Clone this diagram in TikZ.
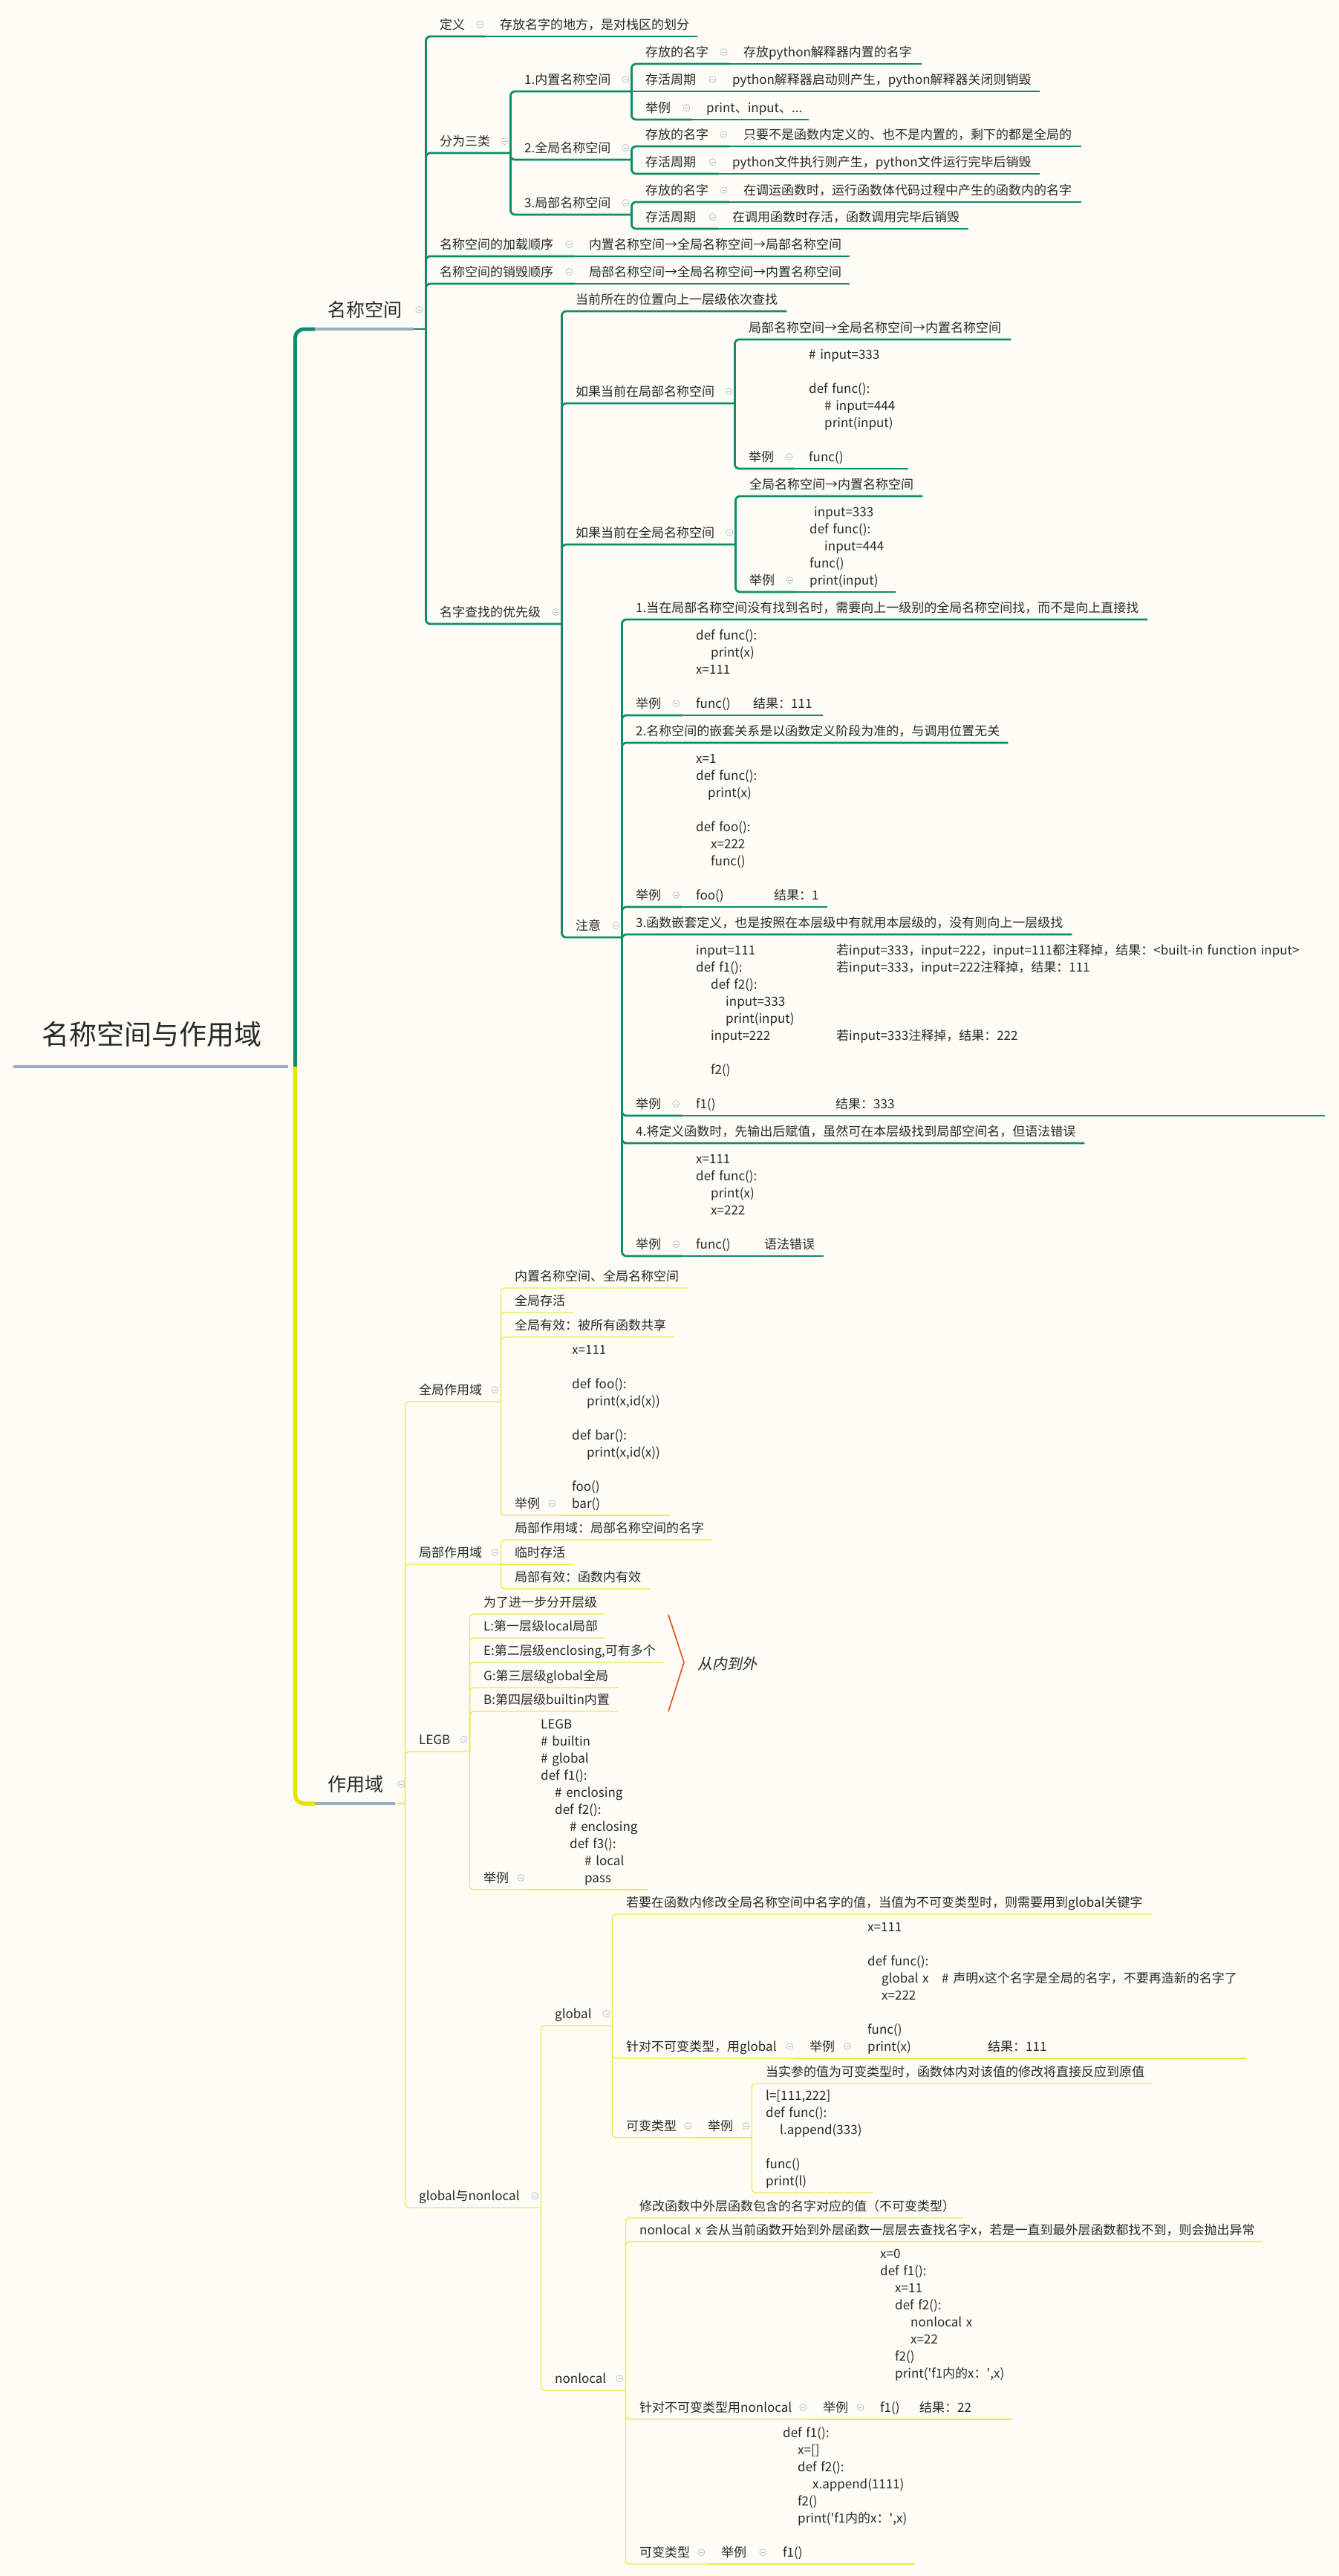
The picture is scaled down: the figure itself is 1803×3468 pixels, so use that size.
\documentclass[tikz,border=0pt]{standalone}
\usepackage{fontspec}
\setmainfont{Noto Sans CJK SC}
\newfontfamily\slantfont[FakeSlant=0.2]{Noto Sans CJK SC}
\usetikzlibrary{calc}

\definecolor{bg}{RGB}{253,253,246}
\definecolor{txt}{RGB}{40,40,40}
\definecolor{gcol}{RGB}{16,140,108}
\definecolor{ycol}{RGB}{238,234,70}
\definecolor{ybr}{RGB}{228,228,10}
\definecolor{hub}{RGB}{155,175,195}
\definecolor{mkc}{RGB}{180,190,208}
\definecolor{redc}{RGB}{222,80,30}

\newcommand\ind[1]{\hspace*{#1pt}}
\newcommand\atcol[2]{\makebox[#1pt][l]{#2}}

\begin{document}
\begin{tikzpicture}[x=1pt, y=-1pt,
    topic/.style={anchor=south west, inner sep=0pt, text width=#1, align=left,
      text=txt, font=\fontsize{17}{23}\selectfont,
      execute at begin node={\leftskip=19pt\hyphenpenalty=10000\exhyphenpenalty=10000},
      execute at end node={\rule[-9.5pt]{0pt}{9.5pt}}},
    lvlone/.style={anchor=south west, inner sep=0pt, text width=#1, align=left,
      text=txt, font=\fontsize{25}{30}\selectfont,
      execute at begin node={\leftskip=17pt},
      execute at end node={\rule[-16pt]{0pt}{16pt}}},
    rootnode/.style={anchor=south west, inner sep=0pt, text width=379, align=left,
      text=txt, font=\fontsize{37}{44}\selectfont,
      execute at begin node={\leftskip=38pt},
      execute at end node={\rule[-29pt]{0pt}{29pt}}},
    gline/.style={draw=gcol, line width=2.8pt, rounded corners=6pt},
    yline/.style={draw=ycol, line width=1.3pt, rounded corners=5pt},
    gbranch/.style={draw=gcol, line width=5pt, rounded corners=12pt},
    ybranch/.style={draw=ybr, line width=5.5pt, rounded corners=12pt},
    hubline/.style={draw=hub, line width=3.4pt},
    mk/.style={circle, draw=mkc, line width=0.7pt, fill=bg, inner sep=0pt, minimum size=9pt,
      path picture={\draw[mkc, line width=0.7pt]
        ([xshift=-2.3pt]path picture bounding box.center) -- ([xshift=2.3pt]path picture bounding box.center);}},
    brace/.style={draw=redc, line width=1.6pt}
  ]
\useasboundingbox (0,0) rectangle (1803,3468);
\fill[bg] (0,0) rectangle (1803,3468);

% root and the two main topics
\node[rootnode] (root) at (18,1436) {名称空间与作用域};
\node[lvlone=149] (ns) at (424,443) {名称空间};
\node[lvlone=121] (zy) at (424,2428) {作用域};

% ---- 名称空间 ----
\node[topic=81] (d1) at (573,49) {定义};
\node[topic=285] (d1a) at (654,49) {存放名字的地方，是对栈区的划分};
\node[topic=114] (d2) at (573,206) {分为三类};
\node[topic=163] (d2a) at (687,123) {1.内置名称空间};
\node[topic=132] (d2a1) at (850,86) {存放的名字};
\node[topic=259] (d2a1c) at (982,86) {存放python解释器内置的名字};
\node[topic=117] (d2a2) at (850,123) {存活周期};
\node[topic=433] (d2a2c) at (967,123) {python解释器启动则产生，python解释器关闭则销毁};
\node[topic=82] (d2a3) at (850,161) {举例};
\node[topic=157] (d2a3c) at (932,161) {print、input、...};
\node[topic=163] (d2b) at (687,215) {2.全局名称空间};
\node[topic=132] (d2b1) at (850,197) {存放的名字};
\node[topic=474] (d2b1c) at (982,197) {只要不是函数内定义的、也不是内置的，剩下的都是全局的};
\node[topic=117] (d2b2) at (850,234) {存活周期};
\node[topic=433] (d2b2c) at (967,234) {python文件执行则产生，python文件运行完毕后销毁};
\node[topic=163] (d2c) at (687,289) {3.局部名称空间};
\node[topic=132] (d2c1) at (850,272) {存放的名字};
\node[topic=474] (d2c1c) at (982,272) {在调运函数时，运行函数体代码过程中产生的函数内的名字};
\node[topic=117] (d2c2) at (850,308) {存活周期};
\node[topic=337] (d2c2c) at (967,308) {在调用函数时存活，函数调用完毕后销毁};
\node[topic=201] (d3) at (573,345) {名称空间的加载顺序};
\node[topic=370] (d3c) at (774,345) {内置名称空间→全局名称空间→局部名称空间};
\node[topic=201] (d4) at (573,382) {名称空间的销毁顺序};
\node[topic=370] (d4c) at (774,382) {局部名称空间→全局名称空间→内置名称空间};
\node[topic=183] (d5) at (573,840) {名字查找的优先级};
\node[topic=303] (e1) at (756,419) {当前所在的位置向上一层级依次查找};
\node[topic=233] (e2) at (756,543) {如果当前在局部名称空间};
\node[topic=372] (e2a) at (989,457) {局部名称空间→全局名称空间→内置名称空间};
\node[topic=81] (e2b) at (989,631) {举例};
\node[topic=153] (e2bc) at (1070,631) {\#~input=333\\ \mbox{}\\ def~func():\\
  \ind{21}\#~input=444\\ \ind{21}print(input)\\ \mbox{}\\ func()};
\node[topic=234] (e3) at (756,733) {如果当前在全局名称空间};
\node[topic=252] (e3a) at (990,668) {全局名称空间→内置名称空间};
\node[topic=81] (e3b) at (990,797) {举例};
\node[topic=135] (e3bc) at (1071,797) {\ind{6}input=333\\ def~func():\\ \ind{20}input=444\\
  func()\\ print(input)};
\node[topic=81] (e4) at (756,1262) {注意};
\node[topic=708] (f1) at (837,834) {1.当在局部名称空间没有找到名时，需要向上一级别的全局名称空间找，而不是向上直接找};
\node[topic=81] (f2) at (837,963) {举例};
\node[topic=190] (f2c) at (918,963) {def~func():\\ \ind{20}print(x)\\ x=111\\ \mbox{}\\
  \atcol{77}{func()}结果：111};
\node[topic=520] (f3) at (837,1000) {2.名称空间的嵌套关系是以函数定义阶段为准的，与调用位置无关};
\node[topic=81] (f4) at (837,1221) {举例};
\node[topic=196] (f4c) at (918,1221) {x=1\\ def~func():\\ \ind{16}print(x)\\ \mbox{}\\
  def~foo():\\ \ind{20}x=222\\ \ind{20}func()\\ \mbox{}\\ \atcol{105}{foo()}结果：1};
\node[topic=606] (f5) at (837,1258) {3.函数嵌套定义，也是按照在本层级中有就用本层级的，没有则向上一层级找};
\node[topic=81] (f6) at (837,1502) {举例};
\node[topic=866] (f6c) at (918,1502) {\atcol{189}{input=111}若input=333，input=222，input=111都注释掉，结果：<built-in~function~input>\\
  \atcol{189}{def~f1():}若input=333，input=222注释掉，结果：111\\
  \ind{20}def~f2():\\ \ind{40}input=333\\ \ind{40}print(input)\\
  \atcol{189}{\ind{20}input=222}若input=333注释掉，结果：222\\ \mbox{}\\
  \ind{20}f2()\\ \mbox{}\\ \atcol{188}{f1()}结果：333};
\node[topic=623] (f7) at (837,1539) {4.将定义函数时，先输出后赋值，虽然可在本层级找到局部空间名，但语法错误};
\node[topic=81] (f8) at (837,1691) {举例};
\node[topic=191] (f8c) at (918,1691) {x=111\\ def~func():\\ \ind{20}print(x)\\ \ind{20}x=222\\
  \mbox{}\\ \atcol{92}{func()}语法错误};

% ---- 作用域 ----
\node[topic=129] (g1) at (545,1887) {全局作用域};
\node[topic=252] (g1a) at (674,1734) {内置名称空间、全局名称空间};
\node[topic=98] (g1b) at (674,1767) {全局存活};
\node[topic=234] (g1c) at (674,1800) {全局有效：被所有函数共享};
\node[topic=77] (g1d) at (674,2040) {举例};
\node[topic=151] (g1dc) at (751,2040) {x=111\\ \mbox{}\\ def~foo():\\ \ind{20}print(x,id(x))\\
  \mbox{}\\ def~bar():\\ \ind{20}print(x,id(x))\\ \mbox{}\\ foo()\\ bar()};
\node[topic=129] (g2) at (545,2106) {局部作用域};
\node[topic=285] (g2a) at (674,2073) {局部作用域：局部名称空间的名字};
\node[topic=97] (g2b) at (674,2106) {临时存活};
\node[topic=201] (g2c) at (674,2139) {局部有效：函数内有效};
\node[topic=87] (g3) at (545,2358) {LEGB};
\node[topic=183] (g3a) at (632,2173) {为了进一步分开层级};
\node[topic=183] (g3b) at (632,2205) {L:第一层级local局部};
\node[topic=261] (g3c) at (632,2238) {E:第二层级enclosing,可有多个};
\node[topic=200] (g3d) at (632,2272) {G:第三层级global全局};
\node[topic=199] (g3e) at (632,2304) {B:第四层级builtin内置};
\node[topic=77] (g3f) at (632,2544) {举例};
\node[topic=164] (g3fc) at (709,2544) {LEGB\\ \#~builtin\\ \#~global\\ def~f1():\\
  \ind{19}\#~enclosing\\ \ind{19}def~f2():\\ \ind{39}\#~enclosing\\ \ind{39}def~f3():\\
  \ind{59}\#~local\\ \ind{59}pass};
\node[topic=183] (g4) at (545,2972) {global与nonlocal};
\node[topic=96] (h1) at (728,2727) {global};
\node[topic=727] (h1a) at (824,2577) {若要在函数内修改全局名称空间中名字的值，当值为不可变类型时，则需要用到global关键字};
\node[topic=247] (h1b) at (824,2771) {针对不可变类型，用global};
\node[topic=78] (h1b1) at (1071,2771) {举例};
\node[topic=530] (h1b1c) at (1149,2771) {x=111\\ \mbox{}\\ def~func():\\
  \ind{19}\atcol{81}{global~x}\#~声明x这个名字是全局的名字，不要再造新的名字了\\
  \ind{19}x=222\\ \mbox{}\\ func()\\ \atcol{162}{print(x)}结果：111};
\node[topic=110] (h1c) at (824,2878) {可变类型};
\node[topic=78] (h1c1) at (934,2878) {举例};
\node[topic=539] (h1c1a) at (1012,2805) {当实参的值为可变类型时，函数体内对该值的修改将直接反应到原值};
\node[topic=163] (h1c1b) at (1012,2952) {l=[111,222]\\ def~func():\\ \ind{19}l.append(333)\\
  \mbox{}\\ func()\\ print(l)};
\node[topic=114] (h2) at (728,3218) {nonlocal};
\node[topic=455] (h2a) at (842,2986) {修改函数中外层函数包含的名字对应的值（不可变类型）};
\node[topic=858] (h2b) at (842,3018) {nonlocal~x~会从当前函数开始到外层函数一层层去查找名字x，若是一直到最外层函数都找不到，则会抛出异常};
\node[topic=247] (h2c) at (842,3257) {针对不可变类型用nonlocal};
\node[topic=77] (h2c1) at (1089,3257) {举例};
\node[topic=197] (h2c1c) at (1166,3257) {x=0\\ def~f1():\\ \ind{20}x=11\\ \ind{20}def~f2():\\
  \ind{41}nonlocal~x\\ \ind{41}x=22\\ \ind{20}f2()\\
  \ind{20}print(\textquotesingle f1内的x：\textquotesingle,x)\\ \mbox{}\\ \atcol{53}{f1()}结果：22};
\node[topic=110] (h2d) at (842,3452) {可变类型};
\node[topic=83] (h2d1) at (952,3452) {举例};
\node[topic=197] (h2d1c) at (1035,3452) {def~f1():\\ \ind{20}x=[]\\ \ind{20}def~f2():\\
  \ind{40}x.append(1111)\\ \ind{20}f2()\\ \ind{20}print(\textquotesingle f1内的x：\textquotesingle,x)\\
  \mbox{}\\ f1()};

% main branches
\draw[hubline] (root.south west) -- ([xshift=-9pt]root.south east);
\draw[gbranch] (root.south east) |- (ns.south west);
\draw[ybranch] (root.south east) |- (zy.south west);
\draw[hubline] (ns.south west) -- ([xshift=-16pt]ns.south east);
\draw[gline] ([xshift=-16pt]ns.south east) -- (ns.south east);
\draw[hubline] (zy.south west) -- ([xshift=-13pt]zy.south east);
\draw[yline] ([xshift=-13pt]zy.south east) -- (zy.south east);

% green connectors
\foreach \p/\c in {ns/d1, ns/d2, ns/d3, ns/d4, ns/d5, d2/d2a, d2/d2b, d2/d2c,
    d2a/d2a1, d2a/d2a3, d2b/d2b1, d2b/d2b2, d2c/d2c1, d2c/d2c2,
    d5/e1, d5/e2, d5/e3, d5/e4, e2/e2a, e2/e2b, e3/e3a, e3/e3b,
    e4/f1, e4/f2, e4/f3, e4/f4, e4/f5, e4/f6, e4/f7, e4/f8}
  \draw[gline] (\p.south east) |- (\c.south east);
\foreach \p/\c in {d1/d1a, d2a/d2a2, d2a1/d2a1c, d2a2/d2a2c, d2a3/d2a3c, d2b1/d2b1c,
    d2b2/d2b2c, d2c1/d2c1c, d2c2/d2c2c, d3/d3c, d4/d4c, e2b/e2bc, e3b/e3bc,
    f2/f2c, f4/f4c, f6/f6c, f8/f8c}
  \draw[gline] (\p.south east) -- (\c.south east);

% yellow connectors
\foreach \p/\c in {zy/g1, zy/g2, zy/g3, zy/g4, g1/g1a, g1/g1b, g1/g1c, g1/g1d,
    g2/g2a, g2/g2c, g3/g3a, g3/g3b, g3/g3c, g3/g3d, g3/g3e, g3/g3f,
    g4/h1, g4/h2, h1/h1a, h1/h1b, h1/h1c, h1c1/h1c1a, h1c1/h1c1b,
    h2/h2a, h2/h2b, h2/h2c, h2/h2d}
  \draw[yline] (\p.south east) |- (\c.south east);
\foreach \p/\c in {g1d/g1dc, g2/g2b, g3f/g3fc, h1b/h1b1, h1b1/h1b1c, h1c/h1c1,
    h2c/h2c1, h2c1/h2c1c, h2d/h2d1, h2d1/h2d1c}
  \draw[yline] (\p.south east) -- (\c.south east);

% collapse markers
\node[mk] (m-ns) at ([xshift=-9pt, yshift=26pt]ns.south east) {};
\node[mk] (m-zy) at ([xshift=-5pt, yshift=26pt]zy.south east) {};
\foreach \n in {d1, d2, d2a, d2a1, d2a2, d2a3, d2b, d2b1, d2b2, d2c, d2c1, d2c2, d3, d4, d5,
    e2, e2b, e3, e3b, e4, f2, f4, f6, f8, g1, g1d, g2, g3, g3f, g4,
    h1, h1b, h1b1, h1c, h1c1, h2, h2c, h2c1, h2d, h2d1}
  \node[mk] (m-\n) at ([xshift=-8pt, yshift=16pt]\n.south east) {};

% summary bracket over L, E, G, B
\coordinate (sumtop) at (900,2174);
\coordinate (sumtip) at (921,2238);
\coordinate (sumbot) at (900,2304);
\draw[brace] (sumtop) -- (sumtip) -- (sumbot);
\node[anchor=base west, inner sep=0pt, text=txt, font=\slantfont\fontsize{20}{24}\selectfont]
  (sumlbl) at (939,2247) {从内到外};
\end{tikzpicture}
\end{document}
